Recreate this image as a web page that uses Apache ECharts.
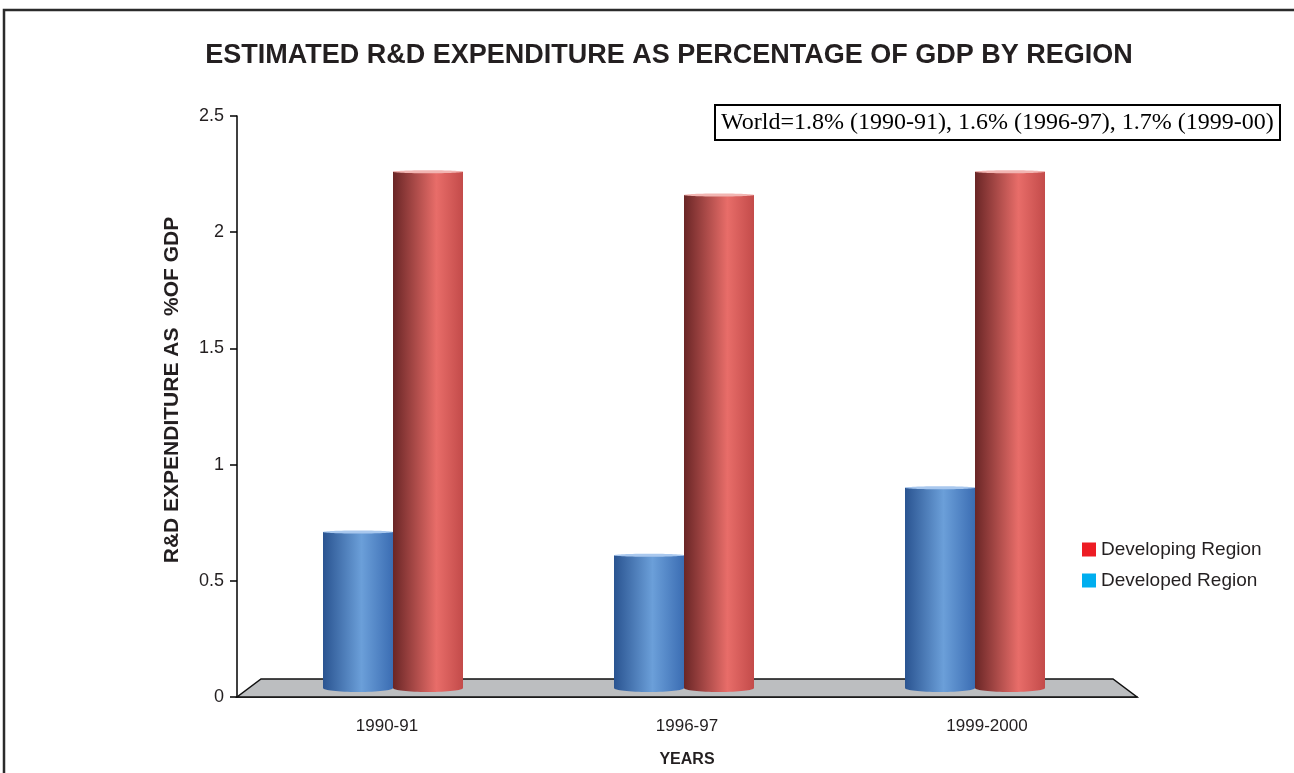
<!DOCTYPE html>
<html>
<head>
<meta charset="utf-8">
<title>R&amp;D expenditure by region</title>
<script src="https://cdn.jsdelivr.net/npm/echarts@6/dist/echarts.min.js"></script>
<style>
  html, body { margin: 0; padding: 0; background: #fff; }
  #chart { width: 1294px; height: 773px; }
</style>
</head>
<body>
<div id="chart"></div>
<script>
// values
const years = ["1990-91", "1996-97", "1999-2000"];
const developed = [0.71, 0.61, 0.9];
const developing = [2.26, 2.16, 2.26];
const yTicks = [0, 0.5, 1, 1.5, 2, 2.5];

const FONT = "Liberation Sans, Arial, Helvetica, sans-serif";
const BAR_W = 70;
const FLOOR_H = 18;
const PERSPECTIVE = 0.03; // bars lean toward the middle of the floor a bit

const blueStops = [
  { offset: 0, color: "#2a5491" },
  { offset: 0.55, color: "#6b9fd9" },
  { offset: 1, color: "#3b6db3" },
];
const redStops = [
  { offset: 0, color: "#6a2626" },
  { offset: 0.62, color: "#e86d69" },
  { offset: 1, color: "#c34b4a" },
];

// cylinder-looking bar, standing on the middle of the grey floor
const cylinder = (shift, stops, topColor) => (params, api) => {
  const top = api.coord([api.value(0), api.value(1)]);
  const base = api.coord([api.value(0), 0]);
  const mid = params.coordSys.x + params.coordSys.width / 2;
  const x = top[0] + shift + (mid - top[0]) * PERSPECTIVE;
  const floorY = base[1] - FLOOR_H / 2;
  const fill = new echarts.graphic.LinearGradient(0, 0, 1, 0, stops);
  return {
    type: "group",
    children: [
      { type: "rect", shape: { x: x, y: top[1], width: BAR_W, height: floorY - top[1] }, style: { fill: fill } },
      { type: "ellipse", shape: { cx: x + BAR_W / 2, cy: floorY, rx: BAR_W / 2, ry: 4 }, style: { fill: fill } },
      { type: "ellipse", shape: { cx: x + BAR_W / 2, cy: top[1], rx: BAR_W / 2, ry: 1.5 }, style: { fill: topColor } },
    ],
  };
};

const chart = echarts.init(document.getElementById("chart"));

chart.setOption({
  animation: false,
  title: [
    {
      text: "ESTIMATED R&D EXPENDITURE AS PERCENTAGE OF GDP BY REGION",
      left: 664,
      top: 37,
      textAlign: "center",
      textStyle: { fontFamily: FONT, fontSize: 27, fontWeight: "bold", color: "#231f20" },
    },
    {
      text: "World=1.8% (1990-91), 1.6% (1996-97), 1.7% (1999-00)",
      left: 715,
      top: 105,
      padding: [6, 6, 5, 6],
      borderColor: "#000",
      borderWidth: 2,
      textStyle: { fontFamily: "Liberation Serif, Times New Roman, serif", fontSize: 24, fontWeight: "normal", color: "#000" },
    },
  ],
  legend: {
    orient: "vertical",
    left: 1077,
    top: 535,
    itemWidth: 14,
    itemHeight: 14,
    itemGap: 12,
    icon: "rect",
    selectedMode: false,
    textStyle: { fontFamily: FONT, fontSize: 19, color: "#231f20" },
    data: [
      { name: "Developing Region", itemStyle: { color: "#ed1c24" } },
      { name: "Developed Region", itemStyle: { color: "#00aeef" } },
    ],
  },
  grid: { left: 237, right: 157, top: 116, bottom: 66 },
  xAxis: {
    type: "category",
    data: years,
    name: "YEARS",
    nameLocation: "middle",
    nameGap: 55,
    nameTextStyle: { fontFamily: FONT, fontSize: 16, fontWeight: "bold", color: "#231f20" },
    axisLine: { lineStyle: { color: "#000", width: 1.5 } },
    axisTick: { length: 9, lineStyle: { color: "#000", width: 1.5 } },
    axisLabel: { margin: 21, fontFamily: FONT, fontSize: 17, color: "#231f20" },
  },
  yAxis: {
    type: "value",
    min: yTicks[0],
    max: yTicks[yTicks.length - 1],
    interval: 0.5,
    axisLine: { show: true, lineStyle: { color: "#000", width: 1.5 } },
    axisTick: { show: true, length: 7, lineStyle: { color: "#000", width: 1.5 } },
    axisLabel: { margin: 13, fontFamily: FONT, fontSize: 18, color: "#231f20" },
    splitLine: { show: false },
  },
  graphic: [
    // outer frame
    { type: "rect", shape: { x: 4, y: 10, width: 1310, height: 800 }, style: { fill: "none", stroke: "#2b2b2b", lineWidth: 2.5 }, silent: true },
    {
      type: "text",
      x: 172,
      y: 390,
      rotation: Math.PI / 2,
      style: {
        text: "R&D EXPENDITURE AS  %OF GDP",
        fontFamily: FONT,
        fontSize: 21,
        fontWeight: "bold",
        fill: "#231f20",
        align: "center",
        verticalAlign: "middle",
      },
    },
  ],
  series: [
    {
      // grey floor under the bars
      type: "custom",
      name: "floor",
      silent: true,
      z: 1,
      data: [[0, 0]],
      renderItem: (params) => {
        const r = params.coordSys;
        const b = r.y + r.height;
        return {
          type: "polygon",
          shape: { points: [[r.x, b], [r.x + r.width, b], [r.x + r.width - 24, b - FLOOR_H], [r.x + 24, b - FLOOR_H]] },
          style: { fill: "#bcbec0", stroke: "#111", lineWidth: 1.5 },
        };
      },
    },
    {
      type: "custom",
      name: "Developed Region",
      z: 3,
      itemStyle: { color: "#00aeef" },
      data: developed.map((v, i) => [i, v]),
      encode: { x: 0, y: 1 },
      renderItem: cylinder(-73, blueStops, "#a9c8ee"),
    },
    {
      type: "custom",
      name: "Developing Region",
      z: 3,
      itemStyle: { color: "#ed1c24" },
      data: developing.map((v, i) => [i, v]),
      encode: { x: 0, y: 1 },
      renderItem: cylinder(-3, redStops, "#f2b5b2"),
    },
  ],
});
</script>
</body>
</html>
